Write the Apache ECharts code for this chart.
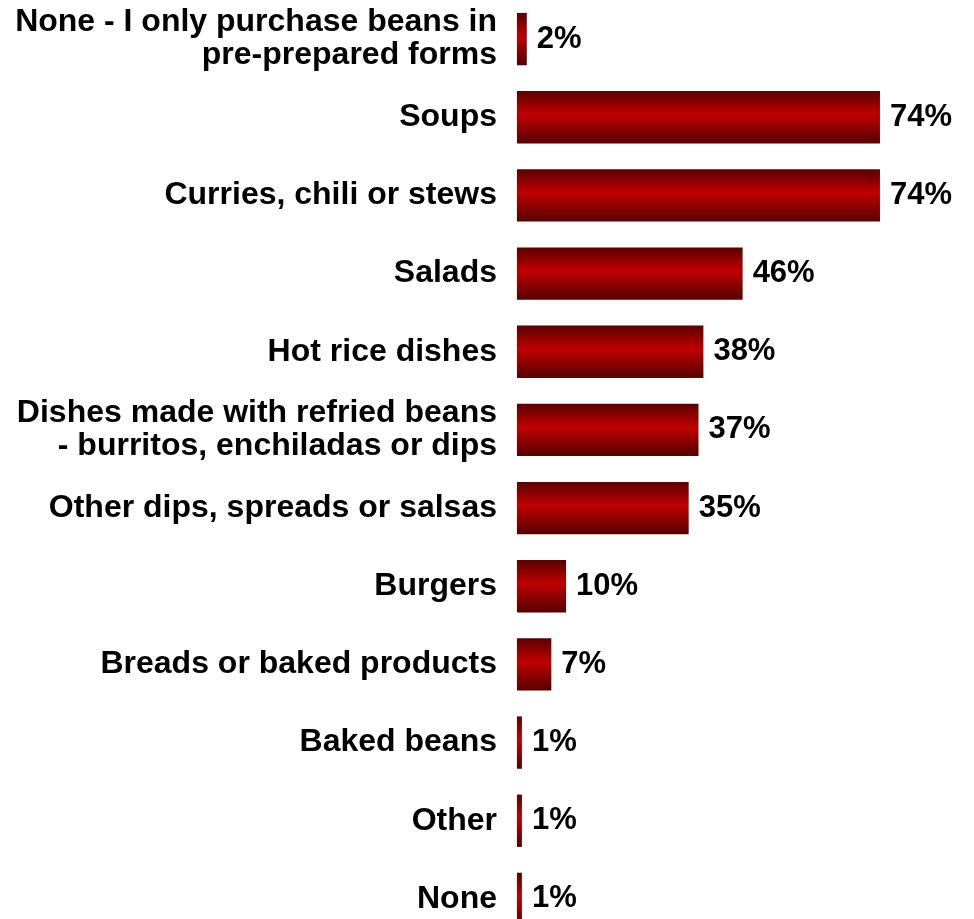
<!DOCTYPE html>
<html>
<head>
<meta charset="utf-8">
<script src="https://cdn.jsdelivr.net/npm/echarts@6/dist/echarts.min.js"></script>
<style>
  html, body { margin: 0; padding: 0; background: #fff; overflow: hidden; }
  /* the last row runs slightly past the bottom of the window */
  #chart { width: 974px; height: 938px; }
</style>
</head>
<body>
<div id="chart"></div>
<script>
// Ways of using dry beans, top to bottom
const categories = [
  'None - I only purchase beans in\npre-prepared forms',
  'Soups',
  'Curries, chili or stews',
  'Salads',
  'Hot rice dishes',
  'Dishes made with refried beans\n- burritos, enchiladas or dips',
  'Other dips, spreads or salsas',
  'Burgers',
  'Breads or baked products',
  'Baked beans',
  'Other',
  'None'
];
const shares = [2, 74, 74, 46, 38, 37, 35, 10, 7, 1, 1, 1];

const FONT = '"Liberation Sans", Arial, Helvetica, sans-serif';

const chart = echarts.init(document.getElementById('chart'));

const barFill = new echarts.graphic.LinearGradient(0, 0, 0, 1, [
  { offset: 0, color: '#5a0000' },
  { offset: 0.45, color: '#c00000' },
  { offset: 1, color: '#560000' }
]);

chart.setOption({
  animation: false,
  backgroundColor: '#ffffff',
  grid: { left: 517, right: 64.6, top: 0, bottom: 0, containLabel: false },
  xAxis: {
    type: 'value',
    min: 0,
    max: 80,
    show: false
  },
  yAxis: {
    type: 'category',
    inverse: true,
    data: categories,
    axisLine: { show: false },
    axisTick: { show: false },
    splitLine: { show: false },
    axisLabel: {
      margin: 20,
      color: '#000',
      fontFamily: FONT,
      fontWeight: 'bold',
      fontSize: 32,
      lineHeight: 33,
      align: 'right'
    }
  },
  series: [{
    type: 'bar',
    data: shares,
    barCategoryGap: '33%',
    itemStyle: { color: barFill },
    label: {
      show: true,
      position: 'right',
      distance: 10,
      formatter: '{c}%',
      color: '#000',
      fontFamily: FONT,
      fontWeight: 'bold',
      fontSize: 31
    }
  }]
});
</script>
</body>
</html>
